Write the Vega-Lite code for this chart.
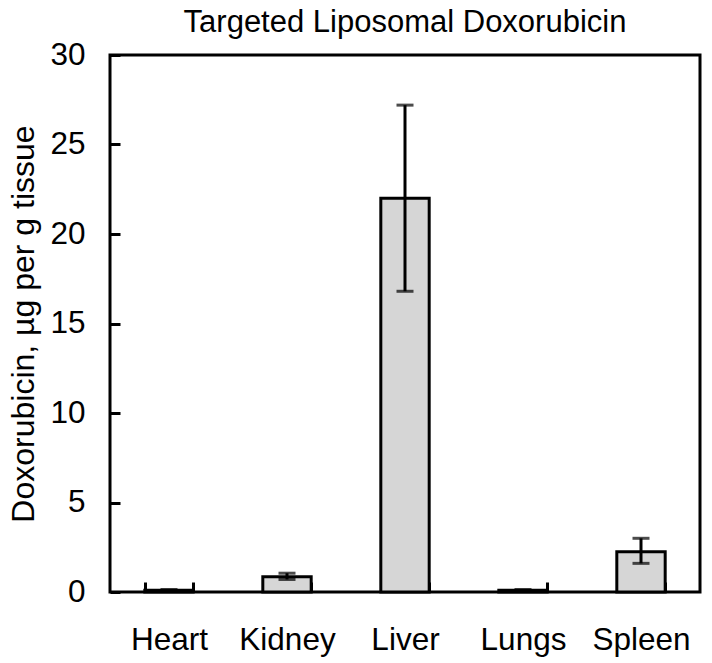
{
  "$schema": "https://vega.github.io/schema/vega-lite/v6.json",
  "width": 590,
  "height": 537,
  "autosize": "none",
  "padding": {"left": 110, "top": 55, "right": 12, "bottom": 71},
  "background": "white",
  "title": {
    "text": "Targeted Liposomal Doxorubicin",
    "font": "Liberation Sans",
    "fontSize": 31,
    "fontWeight": "normal",
    "color": "black",
    "anchor": "middle",
    "offset": 0
  },
  "data": {
    "values": [
      {"organ": "Heart", "value": 0.1, "lo": 0.06, "hi": 0.14},
      {"organ": "Kidney", "value": 0.85, "lo": 0.7, "hi": 1.05},
      {"organ": "Liver", "value": 22.0, "lo": 16.8, "hi": 27.2},
      {"organ": "Lungs", "value": 0.1, "lo": 0.06, "hi": 0.14},
      {"organ": "Spleen", "value": 2.25, "lo": 1.6, "hi": 3.0}
    ]
  },
  "encoding": {
    "x": {
      "field": "organ",
      "type": "nominal",
      "sort": null,
      "scale": {"paddingInner": 0.59, "paddingOuter": 0.295},
      "axis": {
        "title": null,
        "labelAngle": 0,
        "labelFont": "Liberation Sans",
        "labelFontSize": 31.5,
        "labelColor": "black",
        "labelPadding": 42,
        "domain": false,
        "tickBand": "extent",
        "tickSize": -10,
        "tickWidth": 3,
        "tickColor": "black"
      }
    }
  },
  "layer": [
    {
      "mark": {"type": "bar", "fill": "#d6d6d6", "stroke": "black", "strokeWidth": 3},
      "encoding": {
        "y": {
          "field": "value",
          "type": "quantitative",
          "scale": {"domain": [0, 30], "nice": false},
          "axis": {
            "title": "Doxorubicin, µg per g tissue",
            "titleFont": "Liberation Sans",
            "titleFontSize": 32,
            "titleFontWeight": "normal",
            "titleColor": "black",
            "titlePadding": 9,
            "values": [0, 5, 10, 15, 20, 25, 30],
            "labelFont": "Liberation Sans",
            "labelFontSize": 31.5,
            "labelColor": "black",
            "labelPadding": 35,
            "domain": false,
            "grid": false,
            "tickSize": -10,
            "tickWidth": 3,
            "tickColor": "black"
          }
        }
      }
    },
    {
      "mark": {"type": "rule", "stroke": "black", "strokeWidth": 3},
      "encoding": {
        "y": {"field": "lo", "type": "quantitative"},
        "y2": {"field": "hi"}
      }
    },
    {
      "mark": {"type": "tick", "color": "black", "size": 17, "thickness": 3, "orient": "horizontal"},
      "encoding": {"y": {"field": "hi", "type": "quantitative"}}
    },
    {
      "mark": {"type": "tick", "color": "black", "size": 17, "thickness": 3, "orient": "horizontal"},
      "encoding": {"y": {"field": "lo", "type": "quantitative"}}
    }
  ],
  "config": {
    "view": {"stroke": "black", "strokeWidth": 3}
  }
}
